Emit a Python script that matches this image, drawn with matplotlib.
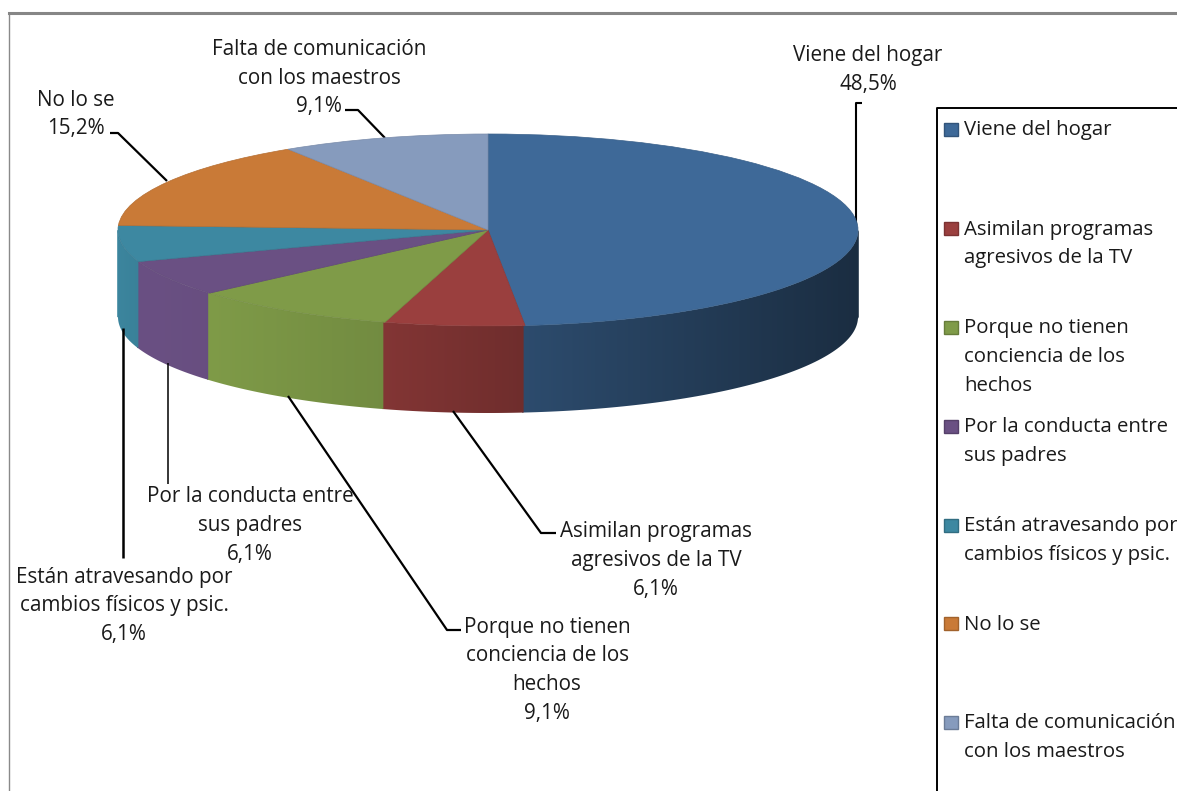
import numpy as np
import matplotlib
matplotlib.use("Agg")
import matplotlib.pyplot as plt
from matplotlib.colors import to_rgb
from matplotlib.patches import Rectangle, Polygon

categories = ["Viene del hogar", "Asimilan programas agresivos de la TV",
              "Porque no tienen conciencia de los hechos", "Por la conducta entre sus padres",
              "Están atravesando por cambios físicos y psic.", "No lo se",
              "Falta de comunicación con los maestros"]
values = [48.5, 6.1, 9.1, 6.1, 6.1, 15.2, 9.1]
label_lines = [["Viene del hogar"],
               ["Asimilan programas", "agresivos de la TV"],
               ["Porque no tienen", "conciencia de los", "hechos"],
               ["Por la conducta entre", "sus padres"],
               ["Están atravesando por", "cambios físicos y psic."],
               ["No lo se"],
               ["Falta de comunicación", "con los maestros"]]

W, H = 1177, 791
plt.rcParams["font.family"] = ["Open Sans", "DejaVu Sans"]
TXT = "#1a1a1a"
FS = 14.9
LEGEND_FS = 14.7
top_cols = ["#3e6998", "#9a3f3e", "#7f9b48", "#6a5083", "#3d88a1", "#c97a37", "#869bbd"]
# wall brightness at the left and right end of each slice
shades = [(0.72, 0.43), (0.85, 0.72), (1.0, 0.90), (1.0, 0.98), (0.98, 0.95), (1, 1), (1, 1)]
CX, CY, RX, RY, DEPTH = 488, 230, 370, 96, 87

fig = plt.figure(figsize=(W / 100, H / 100), dpi=100, facecolor="white")
ax = fig.add_axes([0, 0, 1, 1], zorder=1)

# chart frame and legend box
ax.plot([9, 9], [13, H], color="#8a8a8a", lw=1.0, zorder=1)
ax.plot([9, W], [13, 13], color="#868686", lw=2.2, zorder=1)
ax.plot([936.5, 936.5, W], [H, 107.5, 107.5], color="#000000", lw=1.4, zorder=1)

# side wall of the pie, built from the values
cum = np.cumsum([0] + values) * 3.6
for i in range(len(values)):
    a0, a1 = max(cum[i], 90), min(cum[i + 1], 270)
    if a1 <= a0:
        continue
    rad = np.radians(np.linspace(a0, a1, 80))
    xs = CX + RX * np.sin(rad)
    ys = CY - RY * np.cos(rad)
    # small overlap so no white seam shows between neighbouring walls
    xs[0] += 0.8
    xs[-1] -= 0.8
    base = np.array(to_rgb(top_cols[i]))
    grad = np.linspace(shades[i][0], shades[i][1], 256)[None, :, None] * base[None, None, :]
    im = ax.imshow(np.clip(grad, 0, 1), extent=(xs.min(), xs.max(), ys.max() + DEPTH, ys.min()),
                   aspect="auto", zorder=2, interpolation="bilinear")
    outline = np.r_[np.c_[xs, ys], np.c_[xs[::-1], ys[::-1] + DEPTH]]
    clip = Polygon(outline, closed=True, transform=ax.transData, facecolor="none", edgecolor="none")
    ax.add_patch(clip)
    im.set_clip_path(clip)

ax.set_xlim(0, W); ax.set_ylim(H, 0); ax.axis("off")

# leader lines
leaders = [([856, 856, 862], [228, 103, 103], 1.5),
           ([453, 541, 556], [411, 533, 533], 1.6),
           ([288, 447, 461], [396, 630, 630], 1.6),
           ([168, 168], [363, 484], 1.1),
           ([123, 123], [328, 558], 1.8),
           ([167, 118, 110], [181, 133, 133], 1.6),
           ([385, 358, 345], [138, 110, 110], 1.6)]
for lx, ly, lw in leaders:
    ax.plot(lx, ly, color="#000000", lw=lw, zorder=3, solid_capstyle="butt")

# data labels
label_pos = [(868, 56), (656, 532), (547, 627), (250, 497), (124, 577), (76, 100), (319, 49.5)]
PITCH = 28.7
for lines, v, (x, y) in zip(label_lines, values, label_pos):
    txt = list(lines) + [f"{v:.1f}%".replace(".", ",")]
    for j, line in enumerate(txt):
        ax.text(x, y + j * PITCH, line, ha="center", va="center", fontsize=FS, color=TXT, zorder=5)

# legend
legend_y = [129, 228, 327, 426, 525, 623, 722]
for lines, c, y in zip(label_lines, top_cols, legend_y):
    ax.add_patch(Rectangle((944, y - 6.5), 14, 13, facecolor=c, edgecolor=np.array(to_rgb(c)) * 0.8, lw=1, zorder=4))
    for j, line in enumerate(lines):
        ax.text(964, y + 1.5 + j * PITCH, line, ha="left", va="center", fontsize=LEGEND_FS, color=TXT, zorder=5)

# top face: a real pie stretched into the ellipse
pax = fig.add_axes([(CX - RX) / W, 1 - (CY + RY) / H, 2 * RX / W, 2 * RY / H], zorder=2)
wedges, _ = pax.pie(values, startangle=90, counterclock=False, colors=top_cols, radius=1.0)
for w, c in zip(wedges, top_cols):
    w.set_edgecolor(np.array(to_rgb(c)) * 0.9)
    w.set_linewidth(0.5)
pax.set_aspect("auto")
pax.set_xlim(-1, 1); pax.set_ylim(-1, 1)
pax.patch.set_visible(False)
pax.axis("off")

fig.savefig("out.png", dpi=100, facecolor="white")
